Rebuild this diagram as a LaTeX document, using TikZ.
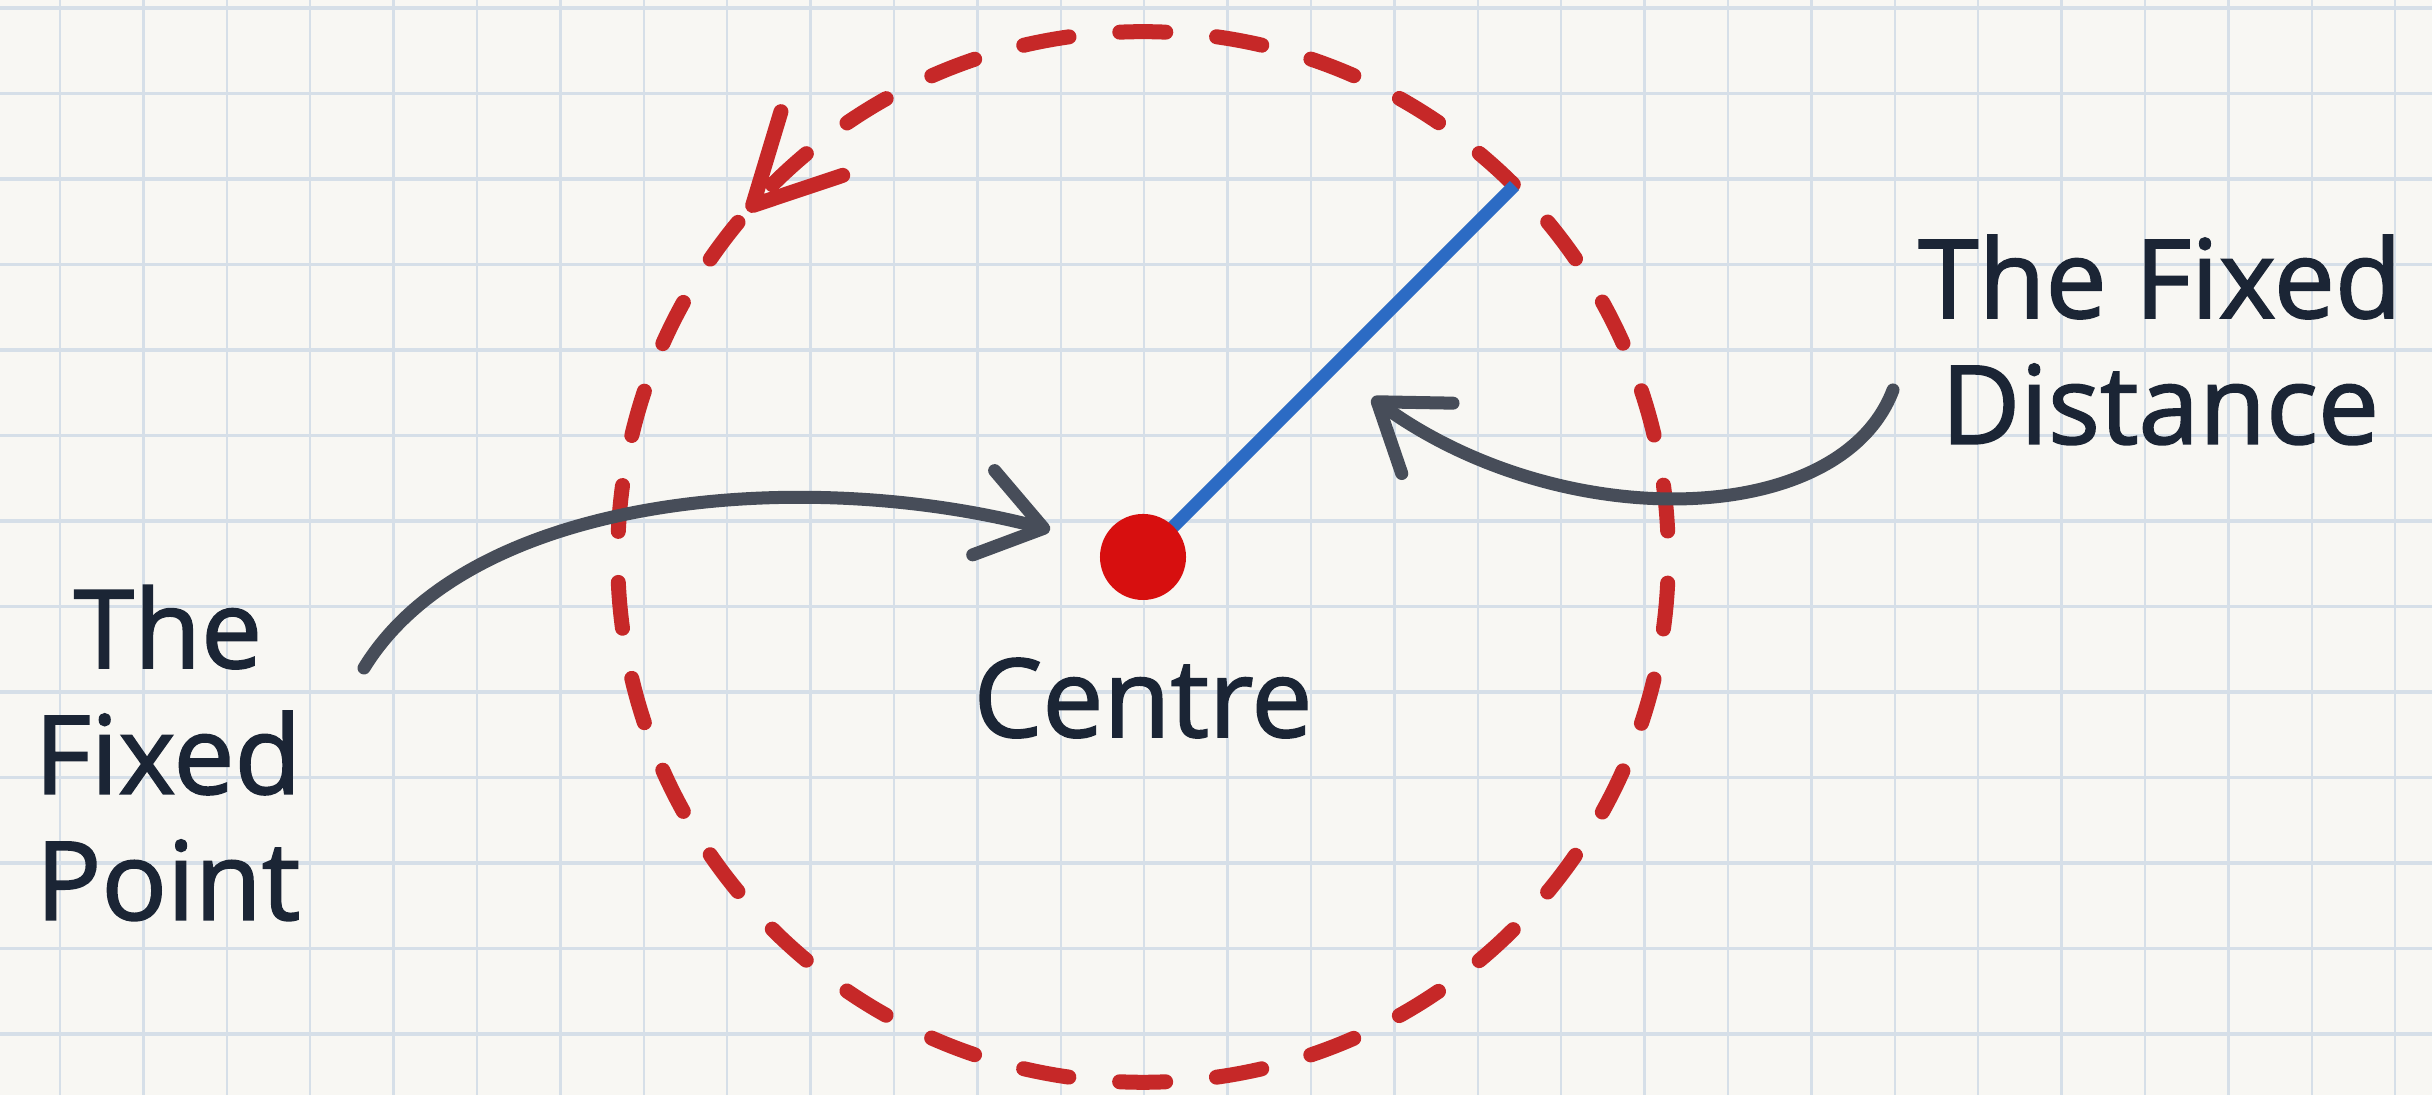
\documentclass[tikz,border=0pt]{standalone}
\usepackage{fontspec}
\setmainfont{Open Sans}
\newfontfamily\handfont{Open Sans}[FakeBold=1.6]
\usetikzlibrary{arrows.meta}
\definecolor{paper}{HTML}{F8F7F3}
\definecolor{gridc}{HTML}{D6DFE8}
\definecolor{ink}{HTML}{1B2535}
\definecolor{dashred}{HTML}{C62828}
\definecolor{dotred}{HTML}{D70F0F}
\definecolor{lineblue}{HTML}{2C6BC4}
\definecolor{pencil}{HTML}{474D59}
\begin{document}
\begin{tikzpicture}[x=0.01cm,y=0.01cm,
  lbl/.style={text=ink, font=\handfont\fontsize{31}{35.8}\selectfont, inner sep=0, align=center},
  gridv/.style={gridc, line width=0.7pt},
  gridh/.style={gridc, line width=0.95pt},
  redring/.style={circle, draw=dashred, line width=0.15cm, dash pattern=on 0.46cm off 0.51cm, dash phase=0.71cm, line cap=round, minimum size=10.5cm, inner sep=0, outer sep=0},
  redhead/.style={dashred, line width=0.15cm, line cap=round, line join=round},
  radline/.style={lineblue, line width=0.13cm},
  reddot/.style={circle, fill=dotred, minimum size=0.86cm, inner sep=0},
  pointer/.style={pencil, line width=0.13cm, line cap=round, -{Straight Barb[length=0.62cm, width=0.87cm, round]}}
]
\fill[paper] (0,0) rectangle (2432,1095);
\useasboundingbox (0,0) rectangle (2432,1095);
\foreach \k in {0,...,28} \draw[gridv] ({60+83.4*\k},0) -- ({60+83.4*\k},1095);
\foreach \k in {0,...,12} \draw[gridh] (0,{1087-85.5*\k}) -- (2432,{1087-85.5*\k});

\coordinate (ctr) at (1143,538);
\node[redring] (ring) at (ctr) {};
\coordinate (rim) at (ring.45);
\coordinate (headtip) at (ring.138.7);
\draw[redhead] ([shift={(73.2:98)}]headtip) -- (headtip) -- ([shift={(18.5:95)}]headtip);

\draw[radline] (ctr) -- (rim);
\node[reddot] (dot) at (ctr) {};

\node[lbl, anchor=base] (centre) at (1143,358) {Centre};
\node[lbl] (fixedpoint) at (168,342) {The\\Fixed\\Point};
\node[lbl] (fixeddist) at (2160,755) {The Fixed\\Distance};

\coordinate (fpstart) at (364,427);
\coordinate (fptip) at (1050,565);
\draw[pointer] (fpstart) .. controls (470,600) and (800,630) .. (fptip);

\coordinate (fdstart) at (1893,705);
\coordinate (fdtip) at (1372,697);
\draw[pointer] (fdstart) .. controls (1840,565) and (1560,560) .. (fdtip);
\end{tikzpicture}
\end{document}
